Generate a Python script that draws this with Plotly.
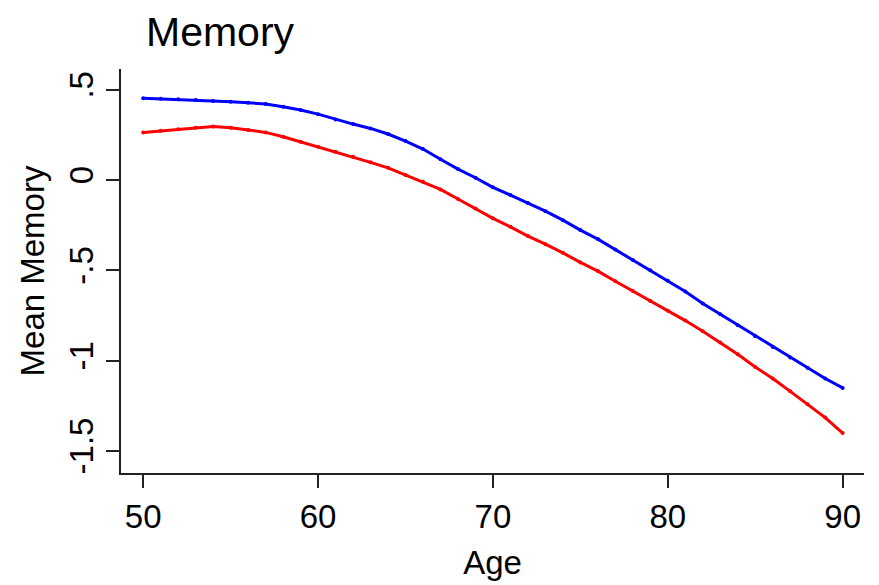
import plotly.graph_objects as go

ages = list(range(50, 91))
blue_vals = [0.453, 0.450, 0.447, 0.443, 0.438, 0.434, 0.428, 0.421, 0.406, 0.388,
             0.365, 0.336, 0.310, 0.286, 0.255, 0.216, 0.172, 0.115, 0.061, 0.013,
             -0.040, -0.083, -0.127, -0.172, -0.222, -0.277, -0.327, -0.384, -0.443, -0.499,
             -0.558, -0.617, -0.684, -0.743, -0.804, -0.865, -0.924, -0.983, -1.040, -1.099,
             -1.151]
red_vals = [0.264, 0.273, 0.281, 0.290, 0.296, 0.290, 0.277, 0.264, 0.240, 0.212,
            0.185, 0.157, 0.129, 0.098, 0.068, 0.028, -0.009, -0.052, -0.105, -0.157,
            -0.212, -0.259, -0.310, -0.355, -0.403, -0.456, -0.504, -0.560, -0.614, -0.669,
            -0.724, -0.778, -0.837, -0.900, -0.965, -1.035, -1.099, -1.170, -1.242, -1.315,
            -1.401]
x_ticks = [50, 60, 70, 80, 90]
y_ticks = [0.5, 0, -0.5, -1, -1.5]
y_tick_labels = [".5", "0", "-.5", "-1", "-1.5"]

FONT = "Liberation Sans, Arial, sans-serif"

fig = go.Figure()
fig.add_trace(go.Scatter(x=ages, y=blue_vals, mode="lines+markers",
                         line=dict(color="#0000ff", width=3),
                         marker=dict(color="#0000ff", size=4),
                         showlegend=False))
fig.add_trace(go.Scatter(x=ages, y=red_vals, mode="lines+markers",
                         line=dict(color="#ff0000", width=3),
                         marker=dict(color="#ff0000", size=4),
                         showlegend=False))

fig.update_layout(
    width=879, height=585,
    margin=dict(l=113, r=23, t=61, b=120, autoexpand=False),
    paper_bgcolor="white", plot_bgcolor="white",
    font=dict(family=FONT, color="black", size=33),
    title=dict(text="Memory", x=138/879, xanchor="left", xref="container",
               y=1 - 9/585, yanchor="top", yref="container",
               font=dict(size=41, family=FONT, color="black")),
    xaxis=dict(range=[48.73, 91.22], tickvals=x_ticks, automargin=False,
               showline=True, linecolor="#222", linewidth=2,
               ticks="outside", ticklen=13, tickwidth=2, tickcolor="#222",
               showgrid=False, zeroline=False,
               tickfont=dict(size=33),
               title=dict(text="Age", font=dict(size=33), standoff=17)),
    yaxis=dict(range=[-1.622, 0.615], tickvals=y_ticks, ticktext=y_tick_labels,
               tickangle=-90, automargin=False,
               showline=True, linecolor="#222", linewidth=2,
               ticks="outside", ticklen=13, tickwidth=2, tickcolor="#222",
               showgrid=False, zeroline=False,
               tickfont=dict(size=33),
               title=dict(text="Mean Memory", font=dict(size=33), standoff=8)),
)

fig.write_html("out.html")
